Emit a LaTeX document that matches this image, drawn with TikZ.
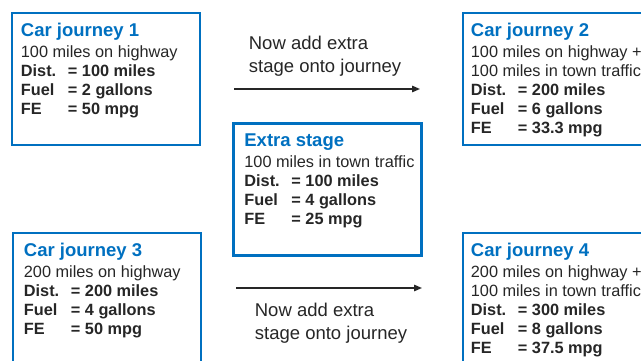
\documentclass[tikz,border=0pt]{standalone}
\usepackage{fontspec}
\setmainfont{Liberation Sans}
\usetikzlibrary{arrows.meta}
\definecolor{boxblue}{RGB}{0,112,192}
\definecolor{inktext}{RGB}{38,38,38}
\newcommand{\rowlabel}[1]{\makebox[47pt][l]{#1}}
\newcommand{\boxtitle}[1]{{\fontsize{18.5}{21}\selectfont\bfseries\color{boxblue}#1}\\[2pt]}

\begin{document}
\begin{tikzpicture} [x=1pt,y=1pt,
  journey/.style={draw=boxblue, line width=2.6pt, inner sep=0pt,
    minimum width=188pt, minimum height=132pt},
  info/.style={anchor=north west, inner sep=0pt, align=left, text=inktext,
    font=\fontsize{16.3}{19}\selectfont},
  arr/.style={line width=1.4pt, inktext, -{Triangle[length=8pt,width=6.5pt]}},
  note/.style={inner sep=0pt, align=left, text=inktext,
    font=\fontsize{18.5}{23}\selectfont}]
\clip (0,0) rectangle (641,360);
\node[journey] (jour1) at (106,281) {};
\node[journey] (jour2) at (557,281) {};
\node[journey] (extra) at (327.5,170.5) {};
\node[journey] (jour3) at (107,61) {};
\node[journey] (jour4) at (557,61) {};
\node[info] (txt1) at ([shift={(10,-11)}]jour1.north west) {\boxtitle{Car journey 1}
  100 miles on highway\\
  \bfseries\rowlabel{Dist.}= 100 miles\\
  \bfseries\rowlabel{Fuel}= 2 gallons\\
  \bfseries\rowlabel{FE}= 50 mpg};
\node[info] (txt2) at ([shift={(9,-11)}]jour2.north west) {\boxtitle{Car journey 2}
  100 miles on highway +\\
  100 miles in town traffic\\
  \bfseries\rowlabel{Dist.}= 200 miles\\
  \bfseries\rowlabel{Fuel}= 6 gallons\\
  \bfseries\rowlabel{FE}= 33.3 mpg};
\node[info] (txtx) at ([shift={(12,-11)}]extra.north west) {\boxtitle{Extra stage}
  100 miles in town traffic\\
  \bfseries\rowlabel{Dist.}= 100 miles\\
  \bfseries\rowlabel{Fuel}= 4 gallons\\
  \bfseries\rowlabel{FE}= 25 mpg};
\node[info] (txt3) at ([shift={(12,-11)}]jour3.north west) {\boxtitle{Car journey 3}
  200 miles on highway\\
  \bfseries\rowlabel{Dist.}= 200 miles\\
  \bfseries\rowlabel{Fuel}= 4 gallons\\
  \bfseries\rowlabel{FE}= 50 mpg};
\node[info] (txt4) at ([shift={(9,-11)}]jour4.north west) {\boxtitle{Car journey 4}
  200 miles on highway +\\
  100 miles in town traffic\\
  \bfseries\rowlabel{Dist.}= 300 miles\\
  \bfseries\rowlabel{Fuel}= 8 gallons\\
  \bfseries\rowlabel{FE}= 37.5 mpg};
\coordinate (s1) at (234,271);
\coordinate (e1) at (420,271);
\coordinate (s2) at (236,72);
\coordinate (e2) at (422,72);
\draw[arr] (s1) -- (e1) node[note, midway, above=12pt, xshift=-2pt] (lab1) {Now add extra\\stage onto journey};
\draw[arr] (s2) -- (e2) node[note, midway, below=14pt, xshift=2pt] (lab2) {Now add extra\\stage onto journey};
\end{tikzpicture}
\end{document}
